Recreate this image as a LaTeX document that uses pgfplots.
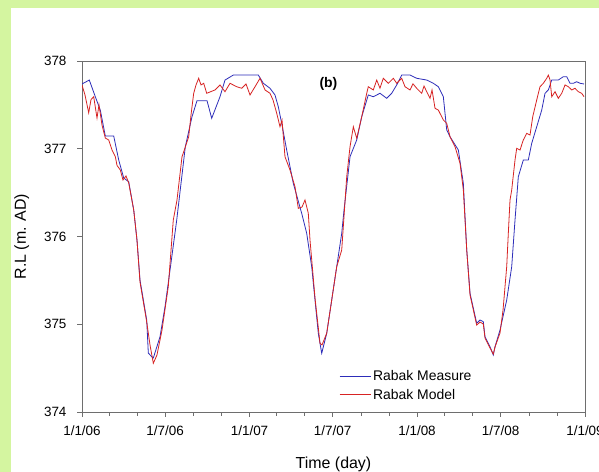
\documentclass[border=0pt]{standalone}
\usepackage{pgfplots}
\pgfplotsset{compat=1.18}
\usepackage{fontspec}
\setmainfont{Liberation Sans}
\definecolor{bggreen}{RGB}{212,245,160}
\definecolor{mblue}{RGB}{45,45,185}
\definecolor{mred}{RGB}{215,35,35}
\definecolor{framegray}{RGB}{110,110,110}
\begin{document}
\begin{tikzpicture}
\fill[bggreen] (0,0) rectangle (599bp,472bp);
\fill[white] (11bp,0) rectangle (599bp,464bp);
\useasboundingbox (0,0) rectangle (599bp,472bp);
\begin{axis}[
  at={(82bp,60bp)}, anchor=south west,
  scale only axis, width=503bp, height=351bp,
  xmin=0, xmax=1096, ymin=374, ymax=378,
  xtick={0,181,365,546,730,912,1096},
  xticklabels={1/1/06,1/7/06,1/1/07,1/7/07,1/1/08,1/7/08,1/1/09},
  minor xtick={59,120,243,304,424,485,608,669,790,851,974,1035},
  ytick={374,375,376,377,378},
  /pgf/number format/assume math mode=true,
  tick align=outside, xtick pos=bottom, ytick pos=left,
  major tick length=5bp, minor tick length=4bp,
  every tick/.style={framegray, line width=0.6pt},
  axis line style={framegray, line width=0.6pt},
  tick label style={font=\fontsize{13.5}{16}\selectfont, black},
  xticklabel style={yshift=-5bp},
  yticklabel style={xshift=-7bp, /pgf/number format/.cd, fixed, 1000 sep={}},
  xlabel={Time (day)}, ylabel={R.L (m. AD)},
  label style={font=\fontsize{16}{18}\selectfont},
  xlabel style={yshift=-15bp},
  ylabel style={yshift=8bp},
  legend style={draw=none, fill=none, at={(0.511,0.125)}, anchor=north west,
    font=\fontsize{14}{16}\selectfont, row sep=3bp, inner sep=0pt},
  legend cell align=left,
  legend image code/.code={\draw[mark repeat=2,mark phase=2,#1] plot coordinates {(0bp,0bp) (15bp,0bp) (31bp,0bp)};},
]
\addplot[color=mblue, line width=0.8pt] coordinates {
(0,377.738) (15.9,377.783) (29,377.593) (39.9,377.44) (50.8,377.145) (69.1,377.145)
(80,376.872) (90.9,376.667) (101.8,376.624) (112.7,376.302) (119.8,375.96) (126.4,375.504)
(141,375.048) (144.5,374.672) (151.9,374.63) (155.4,374.615) (170,374.858) (180.9,375.2)
(191.8,375.618) (206.4,376.188) (225.1,377.023) (239.7,377.365) (250.6,377.548) (272.4,377.548)
(282.6,377.347) (300.7,377.593) (311.6,377.783) (329.7,377.84) (384.2,377.84) (395.1,377.746)
(409.6,377.689) (420.5,377.613) (427.7,377.479) (435.1,377.29) (446,376.986) (460.4,376.606)
(478.7,376.264) (489.6,376.036) (500.5,375.656) (507.7,375.276) (514.9,374.897) (522.3,374.669)
(533.2,374.897) (544.1,375.276) (555,375.656) (565.9,376.036) (570.9,376.30) (584,376.909)
(598.6,377.1) (609.5,377.365) (623.8,377.613) (634.7,377.593) (649.3,377.632) (663.9,377.575)
(674.8,377.632) (685.7,377.727) (696.6,377.84) (714.7,377.84) (729.3,377.803) (751.1,377.783)
(765.5,377.746) (776.4,377.707) (787.3,377.593) (791,377.404) (794.7,377.214) (801.9,377.137)
(820,376.986) (830.9,376.606) (838.3,375.846) (845.5,375.353) (860,375.011) (867.2,375.048)
(874.4,375.029) (878.1,374.858) (889,374.744) (896.2,374.65) (899.9,374.744) (910.8,374.934)
(925.4,375.276) (936.3,375.656) (943.5,376.188) (950.7,376.681) (961.6,376.872) (972.5,376.872)
(979.9,377.062) (990.8,377.251) (1001.7,377.441) (1008.9,377.632) (1016.1,377.67) (1023.5,377.783)
(1037.9,377.783) (1048.8,377.821) (1056.2,377.821) (1063.4,377.746) (1070.6,377.746) (1078,377.764)
(1085.1,377.746) (1093.9,377.738)
};
\addlegendentry{Rabak Measure}
\addplot[color=mred, line width=0.8pt] coordinates {
(0,377.726) (6.5,377.613) (14.6,377.41) (19.6,377.56) (25.5,377.593) (32.7,377.35) (37,377.5)
(43.6,377.27) (50.8,377.122) (58.2,377.1) (65.4,376.986) (72.6,376.91) (76.3,376.81) (83.5,376.758)
(89.3,376.644) (95.9,376.69) (101.8,376.61) (112.7,376.302) (119.8,375.96) (126.4,375.48)
(141,375.026) (148.2,374.764) (155.4,374.555) (163.4,374.65) (174.3,374.934) (188,375.428)
(198.9,376.188) (207,376.416) (217.9,376.909) (224.4,377.01) (232.5,377.137) (237.5,377.385)
(243.4,377.632) (248.4,377.727) (254.3,377.803) (259.3,377.727) (265.2,377.746) (271.7,377.632)
(278.9,377.647) (289.8,377.67) (300.7,377.727) (311.6,377.65) (322.5,377.746) (337.1,377.707)
(348,377.689) (357.4,377.738) (366.1,377.613) (377,377.707) (387.9,377.803) (398.8,377.67)
(409.6,377.632) (416.2,377.556) (424.3,377.404) (431.4,377.251) (435.8,377.328) (442.3,376.909)
(453.2,376.758) (464.1,376.568) (471.3,376.321) (479.4,376.336) (485.9,376.416) (493.1,376.264)
(496.8,375.96) (507.7,375.3) (518.6,374.783) (523,374.764) (533.2,374.897) (544.1,375.276)
(555,375.656) (565.9,375.846) (576.8,376.681) (584,377.023) (591.2,377.251) (598.6,377.119)
(609.5,377.365) (620.4,377.632) (623.8,377.707) (634.7,377.67) (642.2,377.783) (649.3,377.69)
(656.5,377.803) (667.4,377.746) (678.3,377.803) (685.7,377.746) (696.6,377.803) (703.8,377.707)
(714.7,377.67) (721.2,377.74) (729.3,377.689) (740.2,377.632) (745.2,377.715) (751.1,377.65)
(758.3,377.575) (762.7,377.67) (769.2,377.461) (776.4,377.441) (787.3,377.328) (794.7,377.29)
(801.9,377.137) (812.8,377.023) (823.7,376.834) (830.9,376.53) (838.3,375.846) (845.5,375.333)
(860,374.99) (867.2,375.025) (874.4,375.003) (878.1,374.843) (889,374.73) (896.2,374.66)
(899.9,374.74) (910.8,374.9) (917.4,375.162) (925.4,375.656) (928.9,376.036) (932.6,376.416)
(936.3,376.53) (943.5,376.872) (947.2,377.005) (954.4,376.986) (961.6,377.1) (969,377.176)
(976.2,377.157) (982.1,377.365) (990.8,377.556) (998,377.707) (1005.2,377.746) (1012.6,377.803)
(1016.1,377.84) (1019.8,377.783) (1023.5,377.593) (1030.7,377.65) (1037.9,377.575) (1045.3,377.632)
(1052.5,377.727) (1059.7,377.707) (1067.1,377.67) (1074.2,377.689) (1081.4,377.65) (1088.8,377.632)
(1093.9,377.593)
};
\addlegendentry{Rabak Model}
\node[font=\bfseries\fontsize{14}{16}\selectfont] at (rel axis cs:0.49,0.935) {(b)};
\end{axis}
\end{tikzpicture}
\end{document}
